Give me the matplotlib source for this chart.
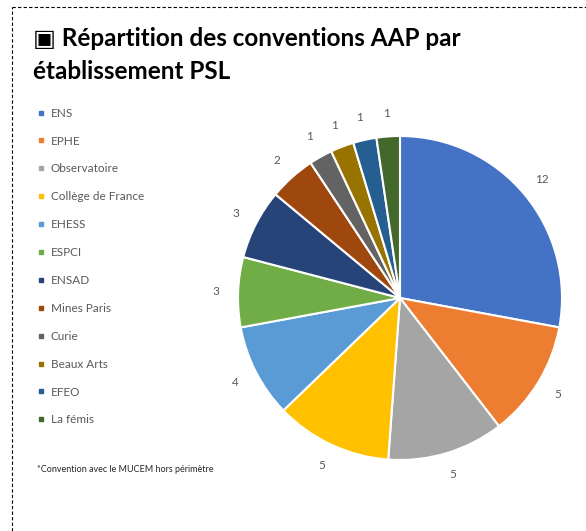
import matplotlib.pyplot as plt
from matplotlib.lines import Line2D

# Data
etablissements = ['ENS', 'EPHE', 'Observatoire', 'Collège de France', 'EHESS', 'ESPCI',
                  'ENSAD', 'Mines Paris', 'Curie', 'Beaux Arts', 'EFEO', 'La fémis']
conventions = [12, 5, 5, 5, 4, 3, 3, 2, 1, 1, 1, 1]
couleurs = ['#4472C4', '#ED7D31', '#A5A5A5', '#FFC000', '#5B9BD5', '#70AD47',
            '#264478', '#9E480E', '#636363', '#997300', '#255E91', '#43682B']

plt.rcParams['font.family'] = ['Lato', 'DejaVu Sans']

fig = plt.figure(figsize=(5.86, 5.31), dpi=100)

# dashed frame around the block
fig.add_artist(Line2D([12 / 586, 1], [1 - 7 / 531, 1 - 7 / 531], color='black',
                      lw=0.8, ls=(0, (3, 2))))
fig.add_artist(Line2D([12 / 586, 12 / 586], [0, 1 - 7 / 531], color='black',
                      lw=0.8, ls=(0, (3, 2))))

# title
fig.text(33 / 586, 1 - 38 / 531, '\u25a3 Répartition des conventions AAP par',
         fontsize=17.5, fontweight='bold', va='center', ha='left',
         family=['Lato', 'DejaVu Sans'])
fig.text(33 / 586, 1 - 71 / 531, 'établissement PSL',
         fontsize=17.5, fontweight='bold', va='center', ha='left')

# pie
r_px = 162
cx, cy = 400, 298
half = 1.3 * r_px
ax = fig.add_axes([(cx - half) / 586, (531 - cy - half) / 531, 2 * half / 586, 2 * half / 531])
wedges, texts = ax.pie(conventions, labels=[str(v) for v in conventions], colors=couleurs,
                       startangle=90, counterclock=False, labeldistance=1.14,
                       wedgeprops=dict(edgecolor='white', linewidth=1.5),
                       textprops=dict(fontsize=8.5, color='#595959'))
ax.set_xlim(-1.3, 1.3)
ax.set_ylim(-1.3, 1.3)
ax.set_aspect('equal')
for t in texts:
    t.set_ha('center')
    t.set_va('center')
    t.set_clip_on(False)

# legend
handles = [Line2D([], [], marker='s', ls='', color=c, markersize=3) for c in couleurs]
leg = fig.legend(handles, etablissements, loc='upper left',
                 bbox_to_anchor=(33 / 586, 1 - 103 / 531), frameon=False,
                 fontsize=8.5, labelspacing=1.43, handlelength=0.6, handletextpad=0.5,
                 borderaxespad=0)
for txt in leg.get_texts():
    txt.set_color('#595959')

fig.text(37 / 586, 1 - 470 / 531, '*Convention avec le MUCEM hors périmètre',
         fontsize=6.5, color='#262626', va='center', ha='left')

plt.savefig('out.png', dpi=100)
